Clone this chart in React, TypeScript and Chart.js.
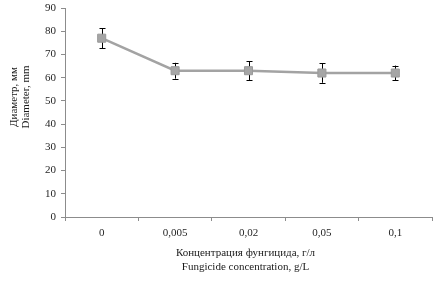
import React, { useEffect, useRef } from 'react';
import { Chart, registerables } from 'chart.js';

Chart.register(...registerables);

const categories = ['0', '0,005', '0,02', '0,05', '0,1'];
const diameters = [77, 63, 63, 62, 62];
const errors = [4.3, 3.4, 4.0, 4.2, 3.2];
const yTitleLines = ['Диаметр, мм', 'Diameter, mm'];
const xTitleLines = ['Концентрация фунгицида, г/л', 'Fungicide concentration, g/L'];

const FONT = '"Liberation Serif", "DejaVu Serif", serif';

const errorBarPlugin = {
  id: 'errorBars',
  beforeDatasetsDraw(chart: any) {
    const ctx = chart.ctx;
    const meta = chart.getDatasetMeta(0);
    const y = chart.scales.y;
    ctx.save();
    ctx.strokeStyle = '#000000';
    ctx.lineWidth = 1;
    meta.data.forEach((pt: any, i: number) => {
      const x = Math.round(pt.x) + 0.5;
      const top = y.getPixelForValue(diameters[i] + errors[i]);
      const bot = y.getPixelForValue(diameters[i] - errors[i]);
      ctx.beginPath();
      ctx.moveTo(x, top);
      ctx.lineTo(x, bot);
      ctx.moveTo(x - 3, Math.round(top) + 0.5);
      ctx.lineTo(x + 3, Math.round(top) + 0.5);
      ctx.moveTo(x - 3, Math.round(bot) + 0.5);
      ctx.lineTo(x + 3, Math.round(bot) + 0.5);
      ctx.stroke();
    });
    ctx.restore();
  },
};

const titlesPlugin = {
  id: 'axisTitles',
  afterDraw(chart: any) {
    const ctx = chart.ctx;
    const area = chart.chartArea;
    ctx.save();
    ctx.fillStyle = '#1a1a1a';
    ctx.font = `11px ${FONT}`;
    ctx.textAlign = 'center';
    ctx.textBaseline = 'middle';
    const cx = (area.left + area.right) / 2 - 3;
    ctx.fillText(xTitleLines[0], cx, 253);
    ctx.fillText(xTitleLines[1], cx, 267);
    ctx.translate(0, 97);
    ctx.rotate(-Math.PI / 2);
    ctx.fillText(yTitleLines[0], 0, 14);
    ctx.fillText(yTitleLines[1], 0, 26);
    ctx.restore();
  },
};

export default function App() {
  const ref = useRef<HTMLCanvasElement | null>(null);
  useEffect(() => {
    document.body.style.margin = '0';
    if (!ref.current) return;
    const chart = new Chart(ref.current, {
      type: 'line',
      data: {
        labels: categories,
        datasets: [
          {
            data: diameters,
            borderColor: '#a3a3a3',
            borderWidth: 2.5,
            backgroundColor: '#a3a3a3',
            pointStyle: 'rect',
            pointRadius: 5.7,
            pointBackgroundColor: '#a6a6a6',
            pointBorderColor: '#9a9a9a',
            pointBorderWidth: 1,
            tension: 0,
          },
        ],
      },
      options: {
        responsive: false,
        animation: false,
        layout: { autoPadding: false, padding: { left: 0, right: 1, top: 0, bottom: 0 } },
        plugins: {
          legend: { display: false },
          tooltip: { enabled: false },
        },
        scales: {
          x: {
            offset: true,
            grid: {
              offset: true,
              drawOnChartArea: false,
              drawTicks: true,
              tickLength: 4,
              color: '#8c8c8c',
            },
            border: { color: '#8c8c8c', width: 1 },
            ticks: {
              color: '#262626',
              font: { family: FONT, size: 11 },
              padding: 6,
              maxRotation: 0,
            },
            afterFit(scale: any) {
              scale.height = 64;
              scale.paddingRight = 0;
              scale.paddingLeft = 0;
            },
          },
          y: {
            min: 0,
            max: 90,
            grid: {
              drawOnChartArea: false,
              drawTicks: true,
              tickLength: 4,
              color: '#8c8c8c',
            },
            border: { color: '#8c8c8c', width: 1 },
            ticks: {
              stepSize: 10,
              color: '#262626',
              font: { family: FONT, size: 11 },
              padding: 5,
            },
            afterFit(scale: any) {
              scale.width = 65;
              scale.paddingTop = 8;
              scale.paddingBottom = 0;
            },
          },
        },
      },
      plugins: [errorBarPlugin, titlesPlugin],
    });
    return () => chart.destroy();
  }, []);
  return (
    <div style={{ width: 433, height: 281 }}>
      <canvas ref={ref} width={433} height={281} />
    </div>
  );
}
